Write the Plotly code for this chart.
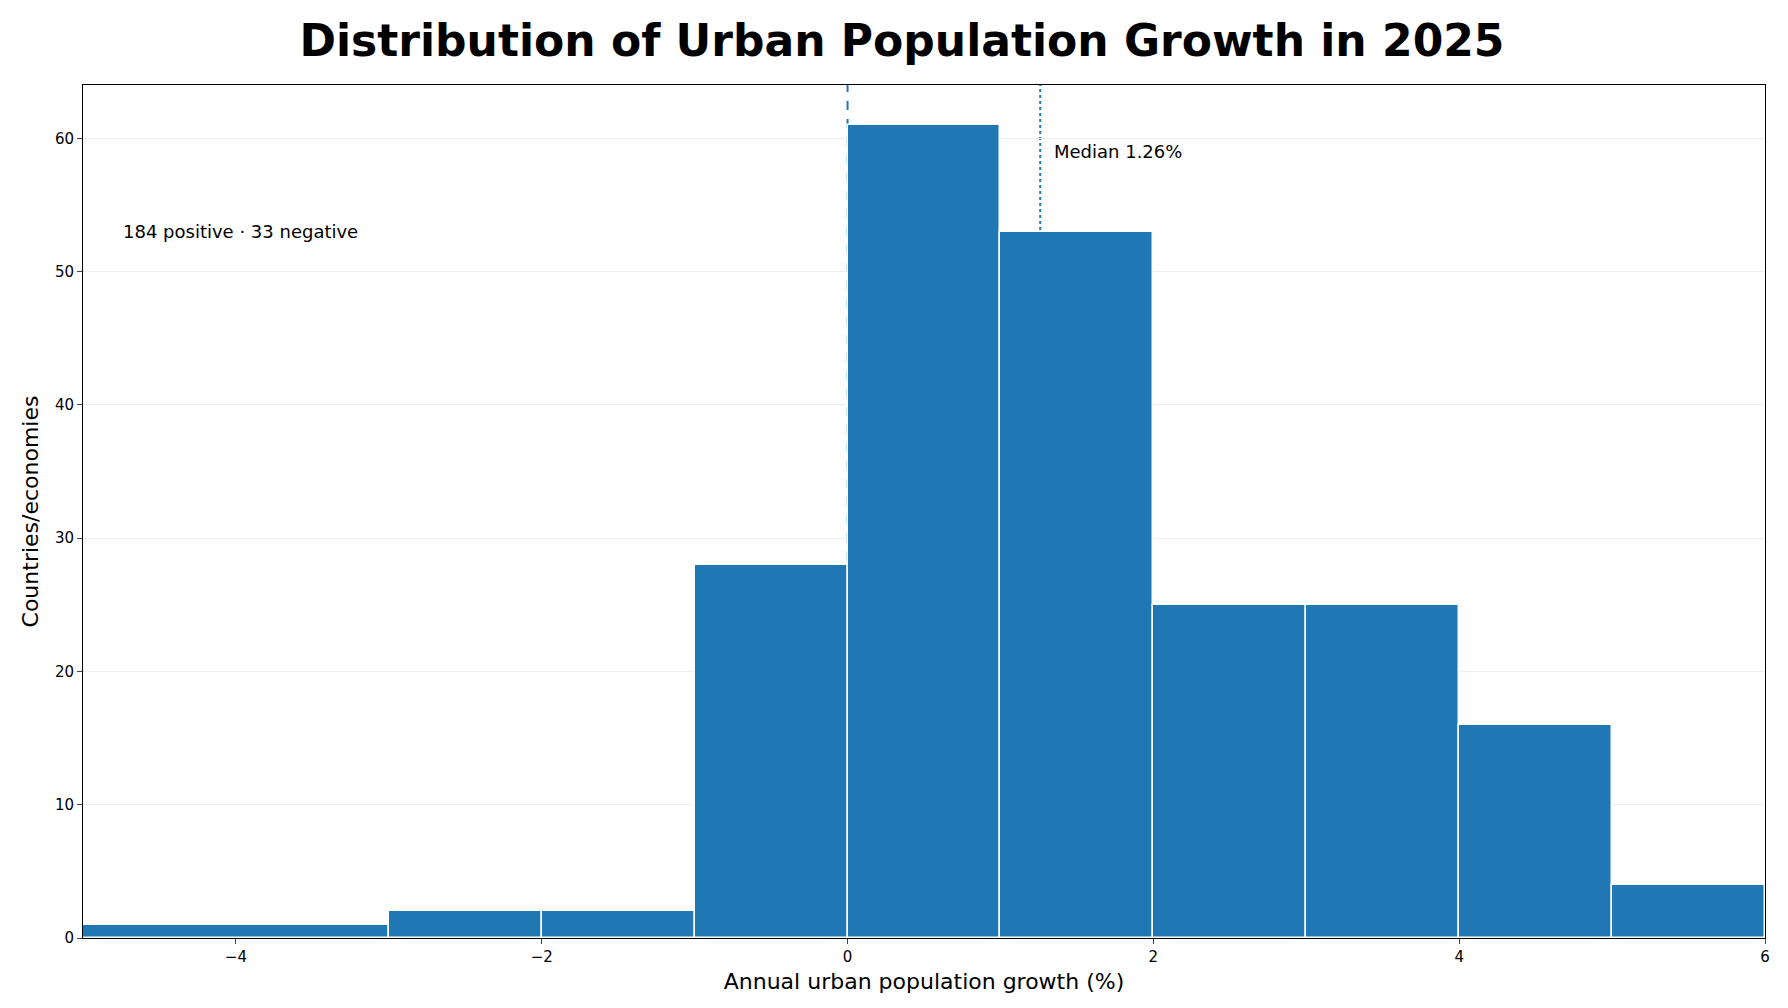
import plotly.graph_objects as go

bin_left = [-5, -3, -2, -1, 0, 1, 2, 3, 4, 5]
bin_right = [-3, -2, -1, 0, 1, 2, 3, 4, 5, 6]
counts = [1, 2, 2, 28, 61, 53, 25, 25, 16, 4]
median = 1.26
n_pos, n_neg = 184, 33

centers = [(a + b) / 2 for a, b in zip(bin_left, bin_right)]
widths = [b - a for a, b in zip(bin_left, bin_right)]

fig = go.Figure()
fig.add_trace(go.Bar(x=centers, y=counts, width=widths, marker=dict(color="#1f77b4", line=dict(color="white", width=1.5)), showlegend=False))
fig.add_shape(type="line", x0=0, x1=0, y0=0, y1=1, yref="paper", line=dict(color="#1f77b4", width=2, dash="dash"), layer="below")
fig.add_shape(type="line", x0=median, x1=median, y0=0, y1=1, yref="paper", line=dict(color="#1f77b4", width=2, dash="dot"), layer="below")
fig.add_annotation(x=median + 0.08, y=59, text=f"Median {median:.2f}%", showarrow=False, xanchor="left", font=dict(size=18, color="black"))
fig.add_annotation(x=-4.75, y=53, text=f"{n_pos} positive · {n_neg} negative", showarrow=False, xanchor="left", font=dict(size=18, color="black"))

fig.update_layout(
    width=1788, height=1008, plot_bgcolor="white", paper_bgcolor="white",
    font=dict(family="DejaVu Sans", color="black"),
    title=dict(text="<b>Distribution of Urban Population Growth in 2025</b>", x=0.5, xanchor="center", y=0.968, yanchor="middle", font=dict(size=44)),
    margin=dict(l=75, r=31, t=77, b=78),
    bargap=0,
    xaxis=dict(range=[-5, 6], tickvals=[-4, -2, 0, 2, 4, 6], ticktext=["−4", "−2", "0", "2", "4", "6"],
               showline=True, linecolor="black", mirror=True, ticks="outside", showgrid=False, zeroline=False,
               title=dict(text="Annual urban population growth (%)", font=dict(size=22), standoff=8), tickfont=dict(size=15)),
    yaxis=dict(range=[0, 64], tickvals=[0, 10, 20, 30, 40, 50, 60], showline=True, linecolor="black", mirror=True,
               ticks="outside", showgrid=True, gridcolor="#eeeeee", zeroline=False,
               title=dict(text="Countries/economies", font=dict(size=22), standoff=10), tickfont=dict(size=15)),
)
fig.write_html("out.html")
